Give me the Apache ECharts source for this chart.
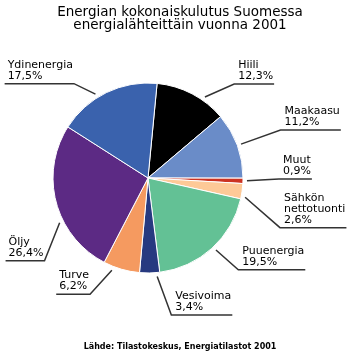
<!DOCTYPE html>
<html><head><meta charset="utf-8">
<script src="https://cdn.jsdelivr.net/npm/echarts@6/dist/echarts.min.js"></script>
<style>html,body{margin:0;padding:0;background:#fff}#c{width:360px;height:360px}</style>
</head><body><div id="c"></div>
<script>
const TITLE = 'Energian kokonaiskulutus Suomessa\nenergialähteittäin vuonna 2001';
const SOURCE = 'Lähde: Tilastokeskus, Energiatilastot 2001';
const NAMES = ['Hiili','Maakaasu','Muut','Sähkön\nnettotuonti','Puuenergia','Vesivoima','Turve','Öljy','Ydinenergia'];
const VALUES = [12.3, 11.2, 0.9, 2.6, 19.5, 3.4, 6.2, 26.4, 17.5];
const COLORS = ['#000000','#6a8cc8','#cc3322','#fdc997','#63c195','#273a80','#f59a60','#5c2a84','#3a62ad'];
// leader line styling per slice: [length, length2, extra vertical shift of underline]
const LEADERS = [[11,36,0],[45,0,0],[8,27,-2],[10,27,35],[29,6,0],[42,20,0],[26,20,0],[8,0,56],[10,24,0]];

const CX = 148, CY = 178, R = 95, START = 84.5;
const FONT = 'DejaVu Sans';

const total = VALUES.reduce((a, b) => a + b, 0);
const ranges = [];
(function () {
  let acc = 90 - START;
  VALUES.forEach(v => { const s = acc; acc += v / total * 360; ranges.push([s, acc]); });
})();

const data = NAMES.map((n, i) => ({
  name: n,
  value: VALUES[i],
  itemStyle: { color: COLORS[i] },
  labelLine: { length: LEADERS[i][0], length2: LEADERS[i][1] }
}));

const chart = echarts.init(document.getElementById('c'), null, { renderer: 'canvas' });
chart.setOption({
  animation: false,
  backgroundColor: '#fff',
  title: [
    { text: TITLE, left: 'center', top: 1,
      textStyle: { fontFamily: FONT, fontSize: 13.5, fontWeight: 'normal', color: '#000', lineHeight: 13 } },
    { text: SOURCE, left: 'center', top: 336,
      textStyle: { fontFamily: FONT, fontSize: 8, fontWeight: 'bold', color: '#000', lineHeight: 11 } }
  ],
  series: [{
    type: 'pie',
    center: [CX, CY],
    radius: R,
    startAngle: START,
    clockwise: true,
    avoidLabelOverlap: false,
    data: data,
    itemStyle: { borderColor: '#fff', borderWidth: 1 },
    label: {
      show: true, position: 'outside', color: '#000',
      fontFamily: FONT, fontSize: 11, lineHeight: 11,
      formatter: p => p.name + '\n' + String(p.value).replace('.', ',') + '%'
    },
    labelLine: { show: true, lineStyle: { color: '#333', width: 1.5 } },
    labelLayout: function (params) {
      const i = params.dataIndex;
      const rect = params.labelRect;
      const pts = params.labelLinePoints;
      if (!pts) return {};
      const isLeft = rect.x + rect.width / 2 < CX;
      const yLine = pts[1][1] + LEADERS[i][2];
      const dy = (yLine - 2) - (rect.y + rect.height);
      let elbowX, endX;
      if (isLeft) { elbowX = rect.x + rect.width + 1; endX = rect.x - 3; }
      else { elbowX = rect.x - 4; endX = rect.x + rect.width + 1; }
      const [s, e] = ranges[i];
      const mid = (s + e) / 2;
      let dir = Math.atan2(elbowX - CX, -(yLine - CY)) * 180 / Math.PI;
      while (dir - mid > 180) dir -= 360;
      while (mid - dir > 180) dir += 360;
      let a = (mid + dir) / 2;
      if (e - s > 3) a = Math.min(e - 1.5, Math.max(s + 1.5, a)); else a = mid;
      const rad = a * Math.PI / 180;
      const anchor = [CX + (R + 4) * Math.sin(rad), CY - (R + 4) * Math.cos(rad)];
      const out = { dy: dy, labelLinePoints: [anchor, [elbowX, yLine], [endX, yLine]] };
      if (isLeft) { out.align = 'left'; out.dx = -rect.width; }
      return out;
    }
  }]
});
</script>
</body></html>
